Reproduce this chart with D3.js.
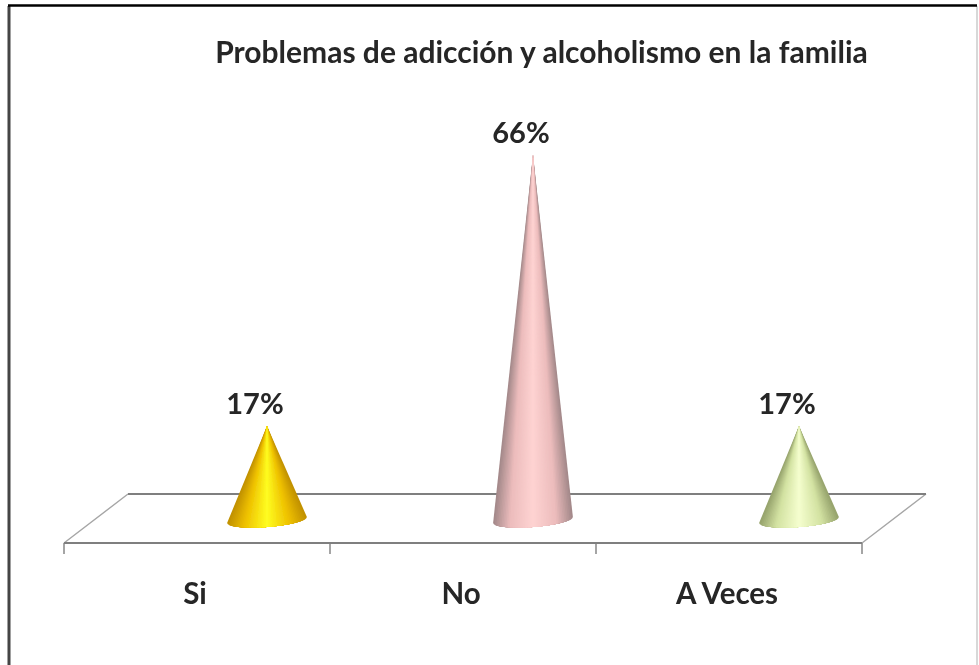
<!DOCTYPE html>
<html>
<head>
<meta charset="utf-8">
<script src="https://cdn.jsdelivr.net/npm/d3@7"></script>
<style>
  html, body { margin: 0; padding: 0; background: #fff; }
  svg { display: block; }
  text { font-family: Lato, "Open Sans", sans-serif; font-weight: 700; fill: #262626; }
</style>
</head>
<body>
<script>
var categories = ['Si', 'No', 'A Veces'];
var percents = [17, 66, 17];
var edgeColors = ['#c29200', '#a58a8b', '#98a56e'];
var bodyColors = ['#eec000', '#ecbcbc', '#d3e2a2'];
var midColors = ['#ffff22', '#ffd4d3', '#f6ffd0'];

var width = 979, height = 665;

var svg = d3.select('body').append('svg')
  .attr('width', width)
  .attr('height', height);

var defs = svg.append('defs');

// slight softening, the reference is a blurred screenshot
defs.append('filter').attr('id', 'soft')
  .append('feGaussianBlur').attr('stdDeviation', 0.7);

var chart = svg.append('g').attr('filter', 'url(#soft)');

// Frame, open at the bottom
chart.append('path')
  .attr('d', 'M977,6V665')
  .style('fill', 'none')
  .style('stroke', '#d8d8d8')
  .style('stroke-width', 2);
chart.append('path')
  .attr('d', 'M9,665V6')
  .style('fill', 'none')
  .style('stroke', '#444')
  .style('stroke-width', 3);
chart.append('path')
  .attr('d', 'M8,5.5H977')
  .style('fill', 'none')
  .style('stroke', '#000')
  .style('stroke-width', 2.5);

// Scales
var x = d3.scaleBand().domain(categories).range([64, 862]);
var y = d3.scaleLinear().domain([0, 66]).range([520, 155]);

var floorFront = 543, floorBack = 494, floorDepth = 64;
var coneShift = 70;
var coneHalf = x.bandwidth() * 0.15;

function bandMid(c) { return x(c) + x.bandwidth() / 2; }

// Floor: the slanted sides are fainter than the long edges
var x0 = x.range()[0], x1 = x.range()[1];
chart.append('path')
  .attr('d', 'M' + x0 + ',' + floorFront + 'L' + (x0 + floorDepth) + ',' + floorBack +
             'M' + (x1 + floorDepth) + ',' + floorBack + 'L' + x1 + ',' + floorFront)
  .style('fill', 'none')
  .style('stroke', '#a6a6a6')
  .style('stroke-width', 1.4);
chart.append('path')
  .attr('d', 'M' + x0 + ',' + floorFront + 'H' + x1 +
             'M' + (x0 + floorDepth) + ',' + floorBack + 'H' + (x1 + floorDepth))
  .style('fill', 'none')
  .style('stroke', '#7f7f7f')
  .style('stroke-width', 1.8);

// Ticks on the front edge
var tickX = categories.map(function(d){ return x(d); }).concat([x1]);
chart.selectAll('line.tick')
  .data(tickX)
  .enter()
  .append('line')
    .attr('class', 'tick')
    .attr('x1', function(d){ return d; })
    .attr('x2', function(d){ return d; })
    .attr('y1', floorFront)
    .attr('y2', floorFront + 11)
    .style('stroke', '#7f7f7f')
    .style('stroke-width', 1.4);

// Cones: nested slices that all meet at the apex, so the shading narrows to the tip
var shadeSteps = d3.range(1, 0, -1 / 24);
var baseLine = d3.line();

function conePath(cx, value, f) {
  var t0 = Math.acos(f);
  var pts = [[cx, y(value)]];
  d3.range(0, 17).forEach(function(k){
    var t = t0 + (Math.PI - 2 * t0) * k / 16;
    pts.push([cx + coneHalf * Math.cos(t), y(0) - 3 * Math.cos(t) + 7 * Math.sin(t)]);
  });
  return baseLine(pts) + 'Z';
}

chart.selectAll('g.cone')
  .data(percents)
  .enter()
  .append('g')
    .attr('class', 'cone')
    .each(function(value, i){
      var cx = bandMid(categories[i]) + coneShift;
      var shade = d3.scaleLinear()
        .domain([0, 0.6, 1])
        .range([midColors[i], bodyColors[i], edgeColors[i]]);

      d3.select(this).selectAll('path')
        .data(shadeSteps)
        .enter()
        .append('path')
          .attr('d', function(f){ return conePath(cx, value, f); })
          .style('fill', function(f){ return shade(f); });
    });

// Value labels
chart.selectAll('text.value')
  .data(percents)
  .enter()
  .append('text')
    .attr('class', 'value')
    .attr('x', function(d, i){ return bandMid(categories[i]) + coneShift - 12; })
    .attr('y', function(d){ return y(d) - 12; })
    .style('text-anchor', 'middle')
    .style('font-size', '29px')
    .text(function(d){ return d + '%'; });

// Category labels
chart.selectAll('text.cat')
  .data(categories)
  .enter()
  .append('text')
    .attr('class', 'cat')
    .attr('x', function(d){ return bandMid(d) - 2; })
    .attr('y', 604)
    .style('text-anchor', 'middle')
    .style('font-size', '29.5px')
    .text(function(d){ return d; });

// Title
chart.append('text')
  .attr('x', 541.5)
  .attr('y', 63)
  .style('text-anchor', 'middle')
  .style('font-size', '30px')
  .text('Problemas de adicción y alcoholismo en la familia');
</script>
</body>
</html>
